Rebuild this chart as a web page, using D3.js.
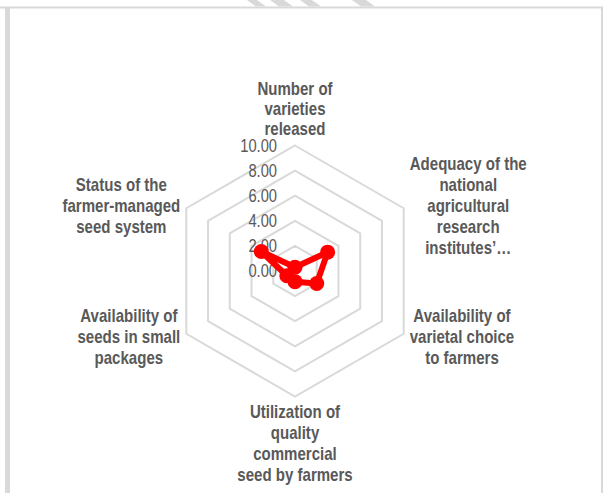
<!DOCTYPE html>
<html>
<head>
<meta charset="utf-8">
<script src="https://cdn.jsdelivr.net/npm/d3@7"></script>
<style>
  html, body { margin: 0; padding: 0; background: #fff; }
  svg { display: block; }
  .lbl { font-family: "Liberation Sans Narrow", "Arial Narrow", "Liberation Sans", Arial, sans-serif; }
</style>
</head>
<body>
<svg id="chart" width="604" height="493"></svg>
<script>
// ---- data ----
const categories = [
  ["Number of", "varieties", "released"],
  ["Adequacy of the", "national", "agricultural", "research", "institutes’…"],
  ["Availability of", "varietal choice", "to farmers"],
  ["Utilization of", "quality", "commercial", "seed by farmers"],
  ["Availability of", "seeds in small", "packages"],
  ["Status of the", "farmer-managed", "seed system"]
];
const values = [0.3, 3.0, 2.0, 0.85, 0.75, 3.1];
const tickValues = [0, 2, 4, 6, 8, 10];
const tickLabels = ["0.00", "2.00", "4.00", "6.00", "8.00", "10.00"];

// ---- layout ----
const W = 604, H = 493;
const cx = 295, cy = 271, R = 125.5;
const squeeze = 0.86; // condensed look
const svg = d3.select("#chart");
const gridColor = "#d9d9d9";
const textColor = "#595959";

// frame
svg.append("line").attr("x1", 0).attr("x2", 603).attr("y1", 7.5).attr("y2", 7.5)
  .attr("stroke", gridColor).attr("stroke-width", 2);
svg.append("rect").attr("x", 5).attr("y", 8).attr("width", 5).attr("height", H - 8)
  .attr("fill", gridColor);
svg.append("line").attr("x1", 602).attr("x2", 602).attr("y1", 7).attr("y2", H)
  .attr("stroke", gridColor).attr("stroke-width", 2);

// watermark fragments above the frame
const wm = svg.append("g").attr("fill", "#d9d9d9");
[[247, 10], [270, 14], [300, 12], [352, 14]].forEach(([x0, w]) => {
  wm.append("polygon").attr("points", `${x0},0 ${x0 + w},0 ${x0 + w + 9},6.5 ${x0 + 9},6.5`);
});

const r = d3.scaleLinear().domain([0, 10]).range([0, R]);
const angle = d3.scaleLinear().domain([0, categories.length]).range([0, 2 * Math.PI]);
const pt = (i, v) => [cx + Math.sin(angle(i)) * r(v), cy - Math.cos(angle(i)) * r(v)];

const g = svg.append("g");

// grid hexagons
tickValues.filter(t => t > 0).forEach(t => {
  g.append("polygon")
    .attr("points", categories.map((c, i) => pt(i, t).join(",")).join(" "))
    .attr("fill", "none").attr("stroke", gridColor).attr("stroke-width", 2);
});

// tick labels
g.selectAll("text.tick").data(tickValues).join("text")
  .attr("class", "lbl tick")
  .attr("transform", d => `translate(${cx - 18},${cy - r(d)}) scale(0.84,1)`)
  .attr("dy", "0.35em")
  .attr("text-anchor", "end")
  .attr("font-size", 17.5)
  .attr("fill", textColor)
  .text((d, i) => tickLabels[i]);

// data line
const line = d3.lineRadial()
  .angle((d, i) => angle(i))
  .radius(d => r(d))
  .curve(d3.curveLinearClosed);
g.append("path")
  .attr("transform", `translate(${cx},${cy})`)
  .attr("d", line(values))
  .attr("fill", "none").attr("stroke", "#ff0000").attr("stroke-width", 6)
  .attr("stroke-linejoin", "round");
g.selectAll("circle.pt").data(values).join("circle")
  .attr("class", "pt")
  .attr("cx", (d, i) => pt(i, d)[0])
  .attr("cy", (d, i) => pt(i, d)[1])
  .attr("r", 7.5)
  .attr("fill", "#ff0000");

// category labels
const lh = 21, fs = 17.5, gap = 6;
categories.forEach((lines, i) => {
  const a = angle(i);
  const sx = Math.sin(a), sy = -Math.cos(a);
  const [vx, vy] = pt(i, 10);
  const t = g.append("text").attr("class", "lbl").attr("font-weight", "bold")
    .attr("font-size", fs).attr("fill", textColor).attr("text-anchor", "middle");
  const spans = lines.map(l => t.append("tspan").text(l));
  const maxW = d3.max(spans, s => s.node().getComputedTextLength()) * squeeze;
  let x, yFirst;
  const n = lines.length;
  if (Math.abs(sx) < 0.01) {
    x = cx;
    if (sy < 0) { // top
      yFirst = vy - 10 - (n - 1) * 20;
    } else { // bottom
      yFirst = vy + 22;
    }
  } else {
    x = sx > 0 ? vx + gap + maxW / 2 : vx - gap - maxW / 2;
    const mid = vy + (sy > 0 ? 3 : -2);
    yFirst = mid - ((n - 1) * lh) / 2 + fs * 0.35;
  }
  const step = (Math.abs(sx) < 0.01 && sy < 0) ? 20 : lh;
  t.attr("transform", `translate(${x},0) scale(${squeeze},1)`);
  spans.forEach((s, k) => s.attr("x", 0).attr("y", yFirst + k * step));
});
</script>
</body>
</html>
